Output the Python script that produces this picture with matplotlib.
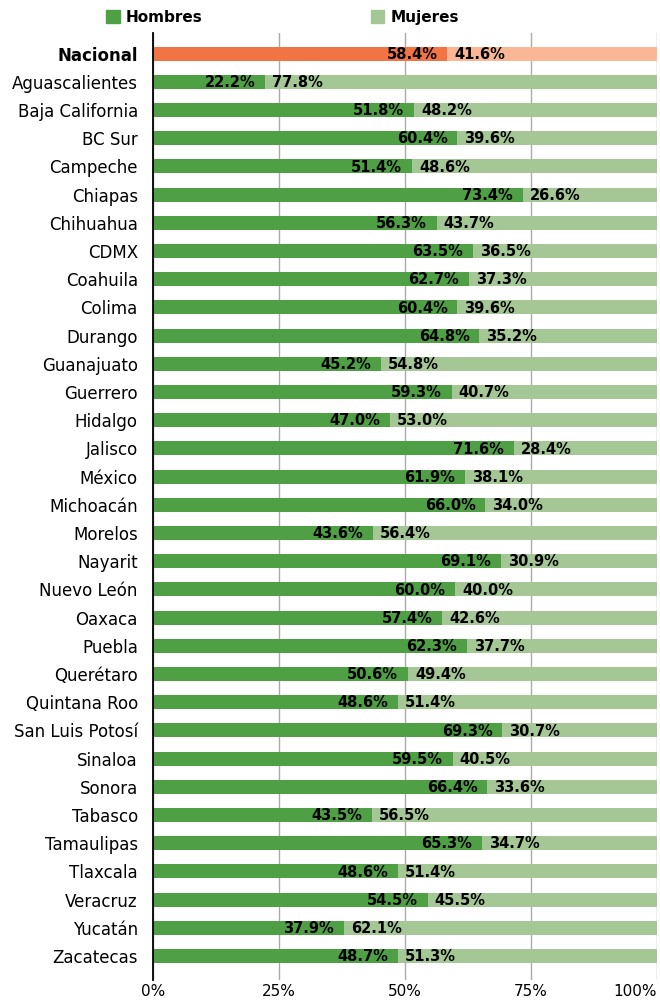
import matplotlib.pyplot as plt
from matplotlib.patches import Patch

estados = ['Nacional', 'Aguascalientes', 'Baja California', 'BC Sur', 'Campeche', 'Chiapas',
           'Chihuahua', 'CDMX', 'Coahuila', 'Colima', 'Durango', 'Guanajuato', 'Guerrero',
           'Hidalgo', 'Jalisco', 'México', 'Michoacán', 'Morelos', 'Nayarit', 'Nuevo León',
           'Oaxaca', 'Puebla', 'Querétaro', 'Quintana Roo', 'San Luis Potosí', 'Sinaloa',
           'Sonora', 'Tabasco', 'Tamaulipas', 'Tlaxcala', 'Veracruz', 'Yucatán', 'Zacatecas']
hombres = [58.4, 22.2, 51.8, 60.4, 51.4, 73.4, 56.3, 63.5, 62.7, 60.4, 64.8, 45.2, 59.3,
           47.0, 71.6, 61.9, 66.0, 43.6, 69.1, 60.0, 57.4, 62.3, 50.6, 48.6, 69.3, 59.5,
           66.4, 43.5, 65.3, 48.6, 54.5, 37.9, 48.7]
mujeres = [41.6, 77.8, 48.2, 39.6, 48.6, 26.6, 43.7, 36.5, 37.3, 39.6, 35.2, 54.8, 40.7,
           53.0, 28.4, 38.1, 34.0, 56.4, 30.9, 40.0, 42.6, 37.7, 49.4, 51.4, 30.7, 40.5,
           33.6, 56.5, 34.7, 51.4, 45.5, 62.1, 51.3]
ticks = [0, 25, 50, 75, 100]

verde = '#4f9f45'
verde_claro = '#a5c795'
naranja = '#f07444'
salmon = '#f9b795'

plt.rcParams['font.family'] = ['DejaVu Sans']

fig = plt.figure(figsize=(6.6, 10.02), dpi=100)
ax = fig.add_axes([0.232, 0.022, 0.763, 0.945])

y = list(range(len(estados)))
c1 = [naranja] + [verde] * (len(estados) - 1)
c2 = [salmon] + [verde_claro] * (len(estados) - 1)
ax.barh(y, hombres, height=0.5, color=c1, zorder=2)
ax.barh(y, mujeres, left=hombres, height=0.5, color=c2, zorder=2)

# etiquetas junto al corte entre hombres y mujeres
for i in y:
    ax.annotate(f'{hombres[i]:.1f}%', (hombres[i], i), xytext=(-7, -0.5), textcoords='offset points',
                ha='right', va='center', fontsize=10.5, fontweight='bold', zorder=3)
    ax.annotate(f'{mujeres[i]:.1f}%', (hombres[i], i), xytext=(5, -0.5), textcoords='offset points',
                ha='left', va='center', fontsize=10.5, fontweight='bold', zorder=3)

ax.set_ylim(len(estados) - 0.15, -0.73)
ax.set_xlim(0, 100)
ax.set_yticks(y)
ax.set_yticklabels(estados, fontsize=12)
ax.get_yticklabels()[0].set_fontweight('bold')
ax.set_xticks(ticks)
ax.set_xticklabels([f'{t}%' for t in ticks], fontsize=11)
ax.get_xticklabels()[-1].set_horizontalalignment('right')
ax.tick_params(length=0, pad=3)
ax.tick_params(axis='y', pad=11)
ax.grid(axis='x', color='#aaaaaa', linewidth=1, zorder=0)
for s in ['top', 'right', 'bottom']:
    ax.spines[s].set_visible(False)
ax.spines['left'].set_color('black')
ax.spines['left'].set_linewidth(1.3)
ax.spines['left'].set_zorder(4)

handles = [Patch(color=verde, label='Hombres'), Patch(color=verde_claro, label='Mujeres')]
fig.legend(handles=handles, loc='center', bbox_to_anchor=(0.428, 0.983), ncol=2, frameon=False,
           handlelength=0.9, handleheight=0.9, handletextpad=0.4, columnspacing=11,
           prop={'weight': 'bold', 'size': 11})

fig.savefig('out.png', dpi=100)
